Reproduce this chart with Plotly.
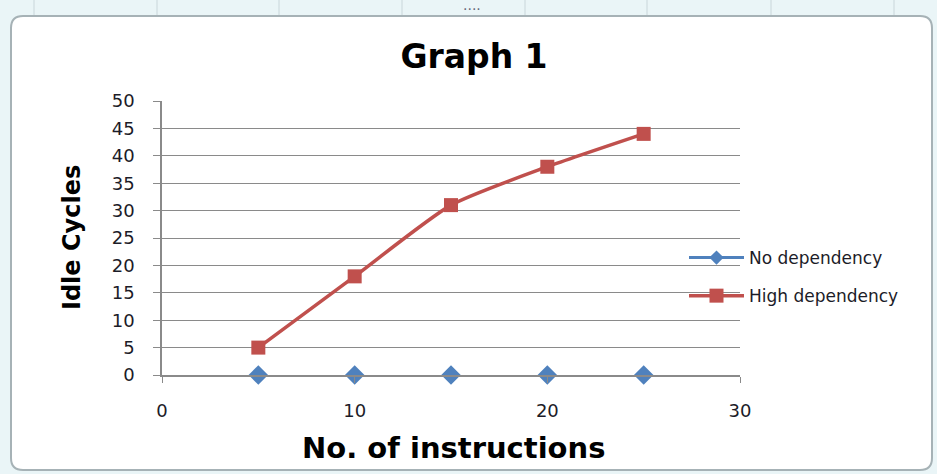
import plotly.graph_objects as go

# Series data
instructions = [5, 10, 15, 20, 25]
no_dependency = [0, 0, 0, 0, 0]
high_dependency = [5, 18, 31, 38, 44]

x_ticks = [0, 10, 20, 30]
y_ticks = [0, 5, 10, 15, 20, 25, 30, 35, 40, 45, 50]

W, H = 937, 474
L, R, T, B = 162, 197, 101, 99
PW, PH = W - L - R, H - T - B

FONT = "DejaVu Sans"
TXT = "#1c1c28"
GRID = "#8a8a8a"
BLUE = "#4F81BD"
RED = "#C0504D"


def px(x):
    return (x - L) / PW


def py(y):
    return (H - B - y) / PH


fig = go.Figure()

# No-dependency points sit on the axis line; the legend keeps its line sample
fig.add_trace(go.Scatter(
    x=instructions, y=no_dependency, name="No dependency",
    mode="markers", legendgroup="a", showlegend=False,
    marker=dict(symbol="diamond", size=15, color=BLUE),
    cliponaxis=False,
))
fig.add_trace(go.Scatter(
    x=[None], y=[None], name="No dependency",
    mode="lines+markers", legendgroup="a",
    line=dict(color=BLUE, width=3),
    marker=dict(symbol="diamond", size=11, color=BLUE),
))
fig.add_trace(go.Scatter(
    x=instructions, y=high_dependency, name="High dependency",
    mode="lines+markers", legendgroup="b",
    line=dict(color=RED, width=3.5, shape="spline", smoothing=0.6),
    marker=dict(symbol="square", size=14, color=RED),
    cliponaxis=False,
))

# Chart frame with rounded corners and the sheet strip behind it
x0, x1, y0, y1, r = 11, 932, 16, 470, 12
frame = (f"M {px(x0 + r)} {py(y0)} L {px(x1 - r)} {py(y0)} "
         f"Q {px(x1)} {py(y0)} {px(x1)} {py(y0 + r)} "
         f"L {px(x1)} {py(y1 - r)} Q {px(x1)} {py(y1)} {px(x1 - r)} {py(y1)} "
         f"L {px(x0 + r)} {py(y1)} Q {px(x0)} {py(y1)} {px(x0)} {py(y1 - r)} "
         f"L {px(x0)} {py(y0 + r)} Q {px(x0)} {py(y0)} {px(x0 + r)} {py(y0)} Z")

shapes = []
for gx in [34, 157, 279, 402, 525, 647, 771, 894]:
    shapes.append(dict(type="line", xref="paper", yref="paper",
                       x0=px(gx), x1=px(gx), y0=py(0), y1=py(16),
                       line=dict(color="#c9d6da", width=1), layer="below"))
shapes.append(dict(type="path", path=frame, xref="paper", yref="paper",
                   fillcolor="white", line=dict(color="#a6b2b6", width=2),
                   layer="below"))

annotations = [
    dict(text="<b>Idle Cycles</b>", xref="paper", yref="paper",
         x=px(72), y=py(238), xanchor="center", yanchor="middle",
         textangle=-90, showarrow=False,
         font=dict(family=FONT, size=24, color="black")),
    dict(text="<b>No. of instructions</b>", xref="paper", yref="paper",
         x=px(453), y=py(448), xanchor="center", yanchor="middle",
         showarrow=False,
         font=dict(family=FONT, size=29, color="black")),
    dict(text="····", xref="paper", yref="paper", x=px(472), y=py(9),
         xanchor="center", yanchor="middle",
         showarrow=False, font=dict(family=FONT, size=14, color="#667")),
]

fig.update_layout(
    width=W, height=H,
    margin=dict(l=L, r=R, t=T, b=B),
    paper_bgcolor="#eaf5f7",
    plot_bgcolor="rgba(0,0,0,0)",
    title=dict(text="<b>Graph 1</b>", x=474 / W, xanchor="center",
               y=1 - 56 / H, yanchor="middle", yref="container",
               font=dict(family=FONT, size=33, color="black")),
    font=dict(family=FONT, size=18, color=TXT),
    xaxis=dict(range=[0, 30], tickvals=x_ticks, showgrid=False,
               zeroline=False, showline=True, linecolor=GRID, linewidth=1.5,
               ticks="outside", ticklen=6, tickcolor=GRID,
               ticklabelstandoff=13, tickfont=dict(size=18, color=TXT)),
    yaxis=dict(range=[0, 50], tickvals=y_ticks, showgrid=True,
               gridcolor=GRID, gridwidth=1, zeroline=False, showline=True,
               linecolor=GRID, linewidth=1.5, ticks="outside", ticklen=7,
               tickcolor=GRID, ticklabelstandoff=15,
               tickfont=dict(size=18, color=TXT)),
    legend=dict(x=px(684), y=py(240), xanchor="left", yanchor="top",
                bgcolor="rgba(0,0,0,0)", traceorder="grouped",
                tracegroupgap=13, itemwidth=55,
                font=dict(family=FONT, size=17, color=TXT)),
    shapes=shapes,
    annotations=annotations,
)

fig.write_html("out.html")
